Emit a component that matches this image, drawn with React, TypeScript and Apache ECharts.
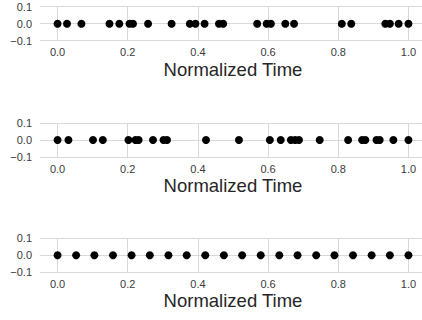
import React, { useEffect, useRef } from "react";
import * as echarts from "echarts";

const row1Times = [0, 0.027, 0.068, 0.148, 0.176, 0.205, 0.215, 0.258, 0.325, 0.377, 0.393, 0.419, 0.46, 0.472, 0.569, 0.596, 0.608, 0.649, 0.674, 0.81, 0.837, 0.934, 0.947, 0.972, 1.0];
const row2Times = [0, 0.031, 0.101, 0.129, 0.202, 0.222, 0.231, 0.272, 0.302, 0.312, 0.423, 0.517, 0.605, 0.636, 0.665, 0.677, 0.688, 0.747, 0.828, 0.868, 0.877, 0.909, 0.918, 0.957, 1.0];
const row3Times = [0, 0.053, 0.105, 0.158, 0.211, 0.263, 0.316, 0.368, 0.421, 0.474, 0.526, 0.579, 0.632, 0.684, 0.737, 0.789, 0.842, 0.895, 0.947, 1.0];
const xTicks = [0, 0.2, 0.4, 0.6, 0.8, 1.0];
const xLabel = "Normalized Time";

const rows = [row1Times, row2Times, row3Times];
const gridTops = [6.7, 123, 238.3];

const FONT = "'Liberation Sans', Arial, sans-serif";

function fmt(v: number): string {
  if (Math.abs(v) < 1e-9) return "0.0";
  const s = v.toFixed(1);
  return s.replace("-", "\u2212");
}

export default function App() {
  const ref = useRef<HTMLDivElement>(null);
  useEffect(() => {
    if (!ref.current) return;
    const chart = echarts.init(ref.current, undefined, { renderer: "svg" });
    const grid = gridTops.map((t) => ({
      left: 40,
      width: 386,
      top: t,
      height: 34,
      containLabel: false,
      outerBoundsMode: "none",
    }));
    const xAxis = rows.map((_, i) => ({
      type: "value",
      gridIndex: i,
      min: -0.05,
      max: 1.05,
      axisLine: { show: false },
      axisTick: { show: false, customValues: xTicks },
      axisLabel: {
        customValues: xTicks,
        fontSize: 11,
        color: "#3a3a3a",
        fontFamily: FONT,
        margin: 6,
        formatter: (v: number) => fmt(v),
      },
      splitLine: { show: true, lineStyle: { color: "#d9d9d9", width: 1 } },
      name: xLabel,
      nameLocation: "middle",
      nameGap: 19,
      nameTextStyle: { fontSize: 18.5, color: "#262626", fontFamily: FONT },
    }));
    const yAxis = rows.map((_, i) => ({
      type: "value",
      gridIndex: i,
      min: -0.1,
      max: 0.1,
      interval: 0.1,
      axisLine: { show: false },
      axisTick: { show: false },
      axisLabel: {
        fontSize: 11,
        color: "#3a3a3a",
        fontFamily: FONT,
        margin: 8,
        formatter: (v: number) => fmt(v),
      },
      splitLine: { show: true, lineStyle: { color: "#d9d9d9", width: 1 } },
    }));
    const series = rows.map((r, i) => ({
      type: "scatter",
      xAxisIndex: i,
      yAxisIndex: i,
      symbol: "circle",
      symbolSize: 8,
      itemStyle: { color: "#000000", opacity: 1 },
      data: r.map((t) => [t, 0]),
      z: 5,
    }));
    chart.setOption({
      animation: false,
      backgroundColor: "#ffffff",
      grid,
      xAxis,
      yAxis,
      series,
    });
    return () => chart.dispose();
  }, []);
  return (
    <div
      ref={ref}
      style={{ position: "fixed", left: 0, top: 0, width: 422, height: 320 }}
    />
  );
}
